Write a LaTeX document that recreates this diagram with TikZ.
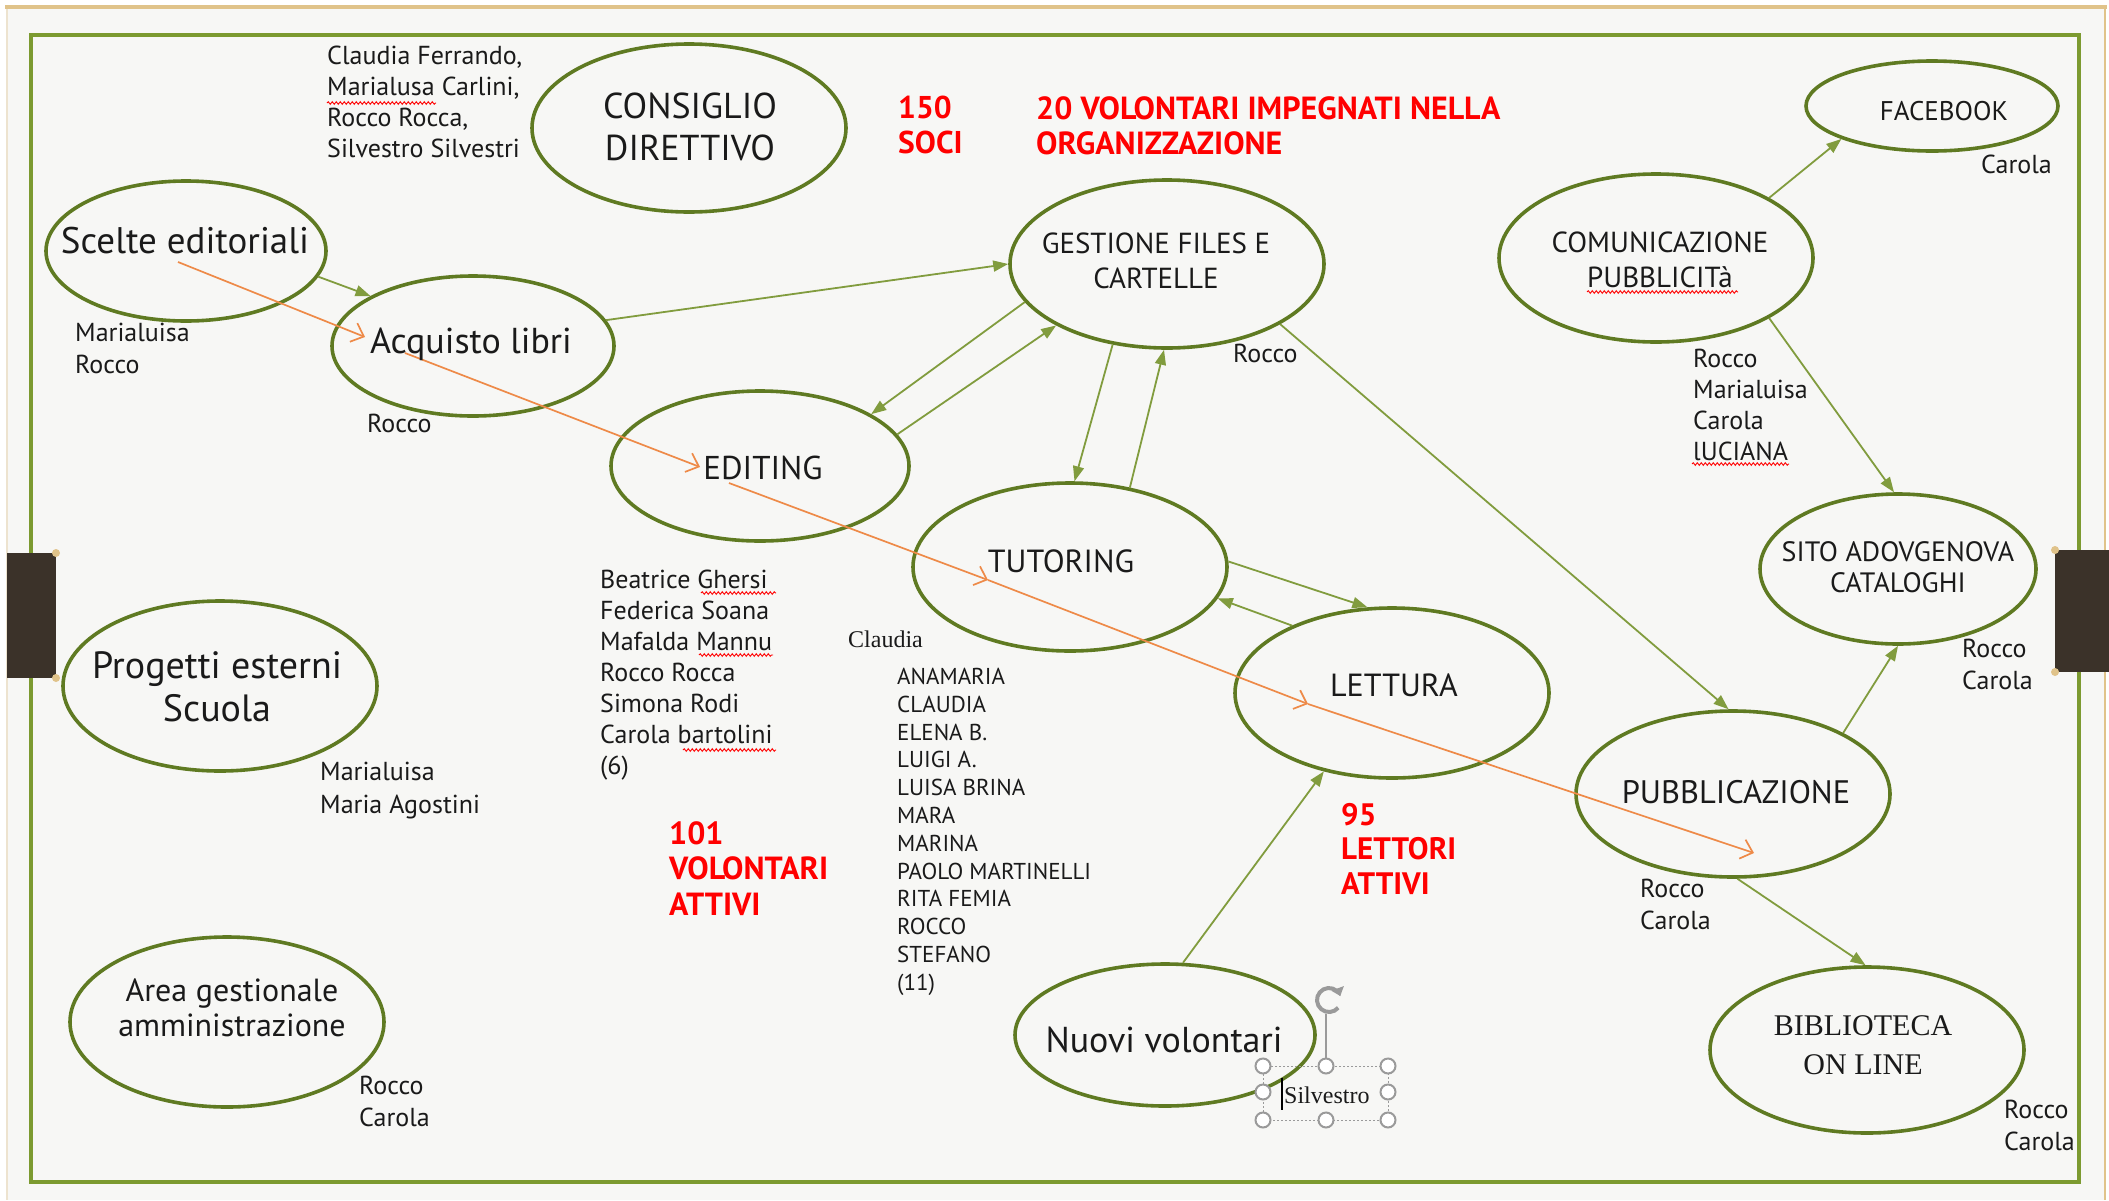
\documentclass[tikz,border=0pt]{standalone}
\usepackage{fontspec}
\setmainfont{PT Sans}
\newfontfamily\seriffont{Liberation Serif}
\usetikzlibrary{arrows.meta,decorations.pathmorphing,shapes.geometric}
\definecolor{bgc}{HTML}{F7F7F5}
\definecolor{frameg}{HTML}{7C9A30}
\definecolor{ellg}{HTML}{5F7A22}
\definecolor{arrg}{HTML}{819C3E}
\definecolor{orng}{HTML}{EE8A48}
\definecolor{tanc}{HTML}{E0C38A}
\definecolor{tanl}{HTML}{EDE3CF}
\definecolor{tabc}{HTML}{3B3229}
\definecolor{txt}{HTML}{1A1A1A}
\definecolor{redt}{HTML}{FF0000}
\definecolor{hgray}{HTML}{9A9A9A}
\newcommand\fsz[2]{\fontsize{#1}{#2}\selectfont}
\tikzset{
 ell/.style={ellipse, draw=ellg, line width=3.6pt, inner sep=0pt},
 grn/.style={draw=arrg, line width=1.8pt, -{Triangle[length=15pt,width=11pt]}},
 org/.style={draw=orng, line width=1.7pt, -{Straight Barb[length=11pt,width=20pt]}},
 lbl/.style={inner sep=0pt, text=txt},
 lst/.style={inner sep=0pt, text=txt, anchor=north west, align=left},
 redl/.style={inner sep=0pt, text=redt, anchor=north west, align=left},
 wave/.style={draw=red, line width=0.9pt, decorate, decoration={snake, amplitude=1.3pt, segment length=4pt}},
 hdl/.style={circle, draw=hgray, fill=white, line width=2pt, minimum size=15pt, inner sep=0pt},
}
\begin{document}
\begin{tikzpicture}[x=1pt,y=-1pt]
\useasboundingbox (0,0) rectangle (2109,1200);
% page
\fill[white] (0,0) rectangle (2109,1200);
\fill[bgc] (7,7) rectangle (2105,1200);
\draw[tanl, line width=1.5pt] (7,7) -- (7,1200);
\draw[tanc, line width=2pt] (2105,7) -- (2105,1200);
\draw[tanc, line width=3.5pt] (5,7) -- (2107,7);
% frame
\draw[frameg, line width=3.6pt] (31,35) rectangle (2079,1182);
% tabs
\fill[tabc] (7,553) rectangle (56,678);
\fill[tanc] (56,553) circle (4pt) (56,678) circle (4pt);
\fill[tabc] (2055,550) rectangle (2109,672);
\fill[tanc] (2055,550) circle (4pt) (2055,672) circle (4pt);

% ellipses
\node[ell, minimum width=314pt, minimum height=168pt] (cons) at (689,128) {};
\node[ell, minimum width=280pt, minimum height=140pt] (scelte) at (186,251) {};
\node[ell, minimum width=282pt, minimum height=140pt] (acq) at (473,346) {};
\node[ell, minimum width=298pt, minimum height=150pt] (edit) at (760,466) {};
\node[ell, minimum width=314pt, minimum height=168pt] (gest) at (1167,264) {};
\node[ell, minimum width=314pt, minimum height=168pt] (com) at (1656,258) {};
\node[ell, minimum width=252pt, minimum height=90pt] (fb) at (1932,106) {};
\node[ell, minimum width=314pt, minimum height=168pt] (tut) at (1070,567) {};
\node[ell, minimum width=314pt, minimum height=170pt] (lett) at (1392,693) {};
\node[ell, minimum width=314pt, minimum height=166pt] (pub) at (1733,794) {};
\node[ell, minimum width=276pt, minimum height=150pt] (sito) at (1898,569) {};
\node[ell, minimum width=314pt, minimum height=166pt] (bib) at (1867,1050) {};
\node[ell, minimum width=300pt, minimum height=142pt] (nuovi) at (1165,1035) {};
\node[ell, minimum width=314pt, minimum height=170pt] (prog) at (220,686) {};
\node[ell, minimum width=314pt, minimum height=170pt] (area) at (227,1022) {};

% green connectors
\draw[grn] (scelte.-11) -- (acq.154);
\draw[grn] (acq.11) -- (gest.180);
\draw[grn] (gest.195) -- (edit.25);
\draw[grn] (edit.13) -- (gest.209);
\draw[grn] (gest.236) -- (tut.87);
\draw[grn] (tut.53) -- (gest.268);
\draw[grn] (gest.-28) -- (pub.93);
\draw[grn] (tut.2) -- (lett.106);
\draw[grn] (lett.146) -- (tut.-12);
\draw[grn] (nuovi.76) -- (lett.229);
\draw[grn] (com.28) -- (fb.200);
\draw[grn] (com.-28) -- (sito.93);
\draw[grn] (pub.29) -- (sito.270);
\draw[grn] (pub.273) -- (bib.91);

% orange path
\coordinate (o1) at (178,262);
\coordinate (o2) at (365,337);
\coordinate (o3) at (405,353);
\coordinate (o4) at (700,467);
\coordinate (o5) at (729,483);
\coordinate (o6) at (988,580);
\coordinate (o7) at (1308,704);
\coordinate (o8) at (1754,853);
\draw[org] (o1) -- (o2);
\draw[org] (o3) -- (o4);
\draw[org] (o5) -- (o6);
\draw[org] (o6) -- (o7);
\draw[org] (o7) -- (o8);

% node labels
\node[lbl, font=\fsz{36}{42}, anchor=north, align=center] (consT) at (690,93) {CONSIGLIO\\DIRETTIVO};
\node[lbl, font=\fsz{37}{40}, anchor=base] (scelteT) at (185,253) {Scelte editoriali};
\node[lbl, font=\fsz{36}{40}, anchor=base] (acqT) at (471,353) {Acquisto libri};
\node[lbl, font=\fsz{33}{40}, anchor=base] (editT) at (763,479) {EDITING};
\node[lbl, font=\fsz{29}{35}, anchor=north, align=center] (gestT) at (1156,233) {GESTIONE FILES E\\CARTELLE};
\node[lbl, font=\fsz{29}{35}, anchor=north, align=center] (comT) at (1660,232) {COMUNICAZIONE\\PUBBLICITà};
\node[lbl, font=\fsz{27}{32}, anchor=base] (fbT) at (1944,120) {FACEBOOK};
\node[lbl, font=\fsz{32}{40}, anchor=base] (tutT) at (1061,572) {TUTORING};
\node[lbl, font=\fsz{32}{40}, anchor=base] (lettT) at (1394,696) {LETTURA};
\node[lbl, font=\fsz{32.5}{40}, anchor=base] (pubT) at (1736,803) {PUBBLICAZIONE};
\node[lbl, font=\fsz{28}{31}, anchor=north, align=center] (sitoT) at (1898,541) {SITO ADOVGENOVA\\CATALOGHI};
\node[lbl, font=\seriffont\fsz{30}{39}, anchor=north, align=center] (bibT) at (1863,1015) {BIBLIOTECA\\ON LINE};
\node[lbl, font=\fsz{36}{40}, anchor=base] (nuoviT) at (1164,1052) {Nuovi volontari};
\node[lbl, font=\fsz{38}{43}, anchor=north, align=center] (progT) at (217,651) {Progetti esterni\\Scuola};
\node[lbl, font=\fsz{32}{35}, anchor=north, align=center] (areaT) at (232,979) {Area gestionale\\amministrazione};

% people lists
\node[lst, font=\fsz{26}{31}] (l1) at (327,46) {Claudia Ferrando,\\Marialusa Carlini,\\Rocco Rocca,\\Silvestro Silvestri};
\node[lst, font=\fsz{26}{32}] (l2) at (75,323) {Marialuisa\\Rocco};
\node[lbl, font=\fsz{26}{31}, anchor=base west] (l3) at (367,432) {Rocco};
\node[lst, font=\fsz{26}{31}] (l4) at (600,570) {Beatrice Ghersi\\Federica Soana\\Mafalda Mannu\\Rocco Rocca\\Simona Rodi\\Carola bartolini\\(6)};
\node[lst, font=\fsz{26}{33}] (l5) at (320,762) {Marialuisa\\Maria Agostini};
\node[lst, font=\fsz{26}{32}] (l6) at (359,1076) {Rocco\\Carola};
\node[lbl, font=\fsz{26}{31}, anchor=base west] (l7) at (1233,362) {Rocco};
\node[lbl, font=\fsz{26}{31}, anchor=base west] (l8) at (1981,173) {Carola};
\node[lst, font=\fsz{26}{31}] (l9) at (1693,349) {Rocco\\Marialuisa\\Carola\\lUCIANA};
\node[lst, font=\fsz{26}{32}] (l10) at (1962,639) {Rocco\\Carola};
\node[lst, font=\fsz{26}{32}] (l11) at (1640,879) {Rocco\\Carola};
\node[lst, font=\fsz{26}{32}] (l12) at (2004,1100) {Rocco\\Carola};
\node[lbl, font=\seriffont\fsz{24}{28}, anchor=base west] (l13) at (848,647) {Claudia};
\node[lst, font=\fsz{23}{27.8}] (l14) at (897,668) {ANAMARIA\\CLAUDIA\\ELENA B.\\LUIGI A.\\LUISA BRINA\\MARA\\MARINA\\PAOLO MARTINELLI\\RITA FEMIA\\ROCCO\\STEFANO\\(11)};

% red figures
\node[redl, font=\bfseries\fsz{31.5}{35}] (r1) at (898,96) {150\\SOCI};
\node[redl, font=\bfseries\fsz{32}{35}] (r2) at (1036,96) {20 VOLONTARI IMPEGNATI NELLA\\ORGANIZZAZIONE};
\node[redl, font=\bfseries\fsz{32}{35.5}] (r3) at (669,821) {101\\VOLONTARI\\ATTIVI};
\node[redl, font=\bfseries\fsz{31}{34.5}] (r4) at (1341,803) {95\\LETTORI\\ATTIVI};

% spell-check underlines
\draw[wave] (327,103) -- (436,103);
\draw[wave] (1587,292) -- (1738,292);
\draw[wave] (1692,464) -- (1789,464);
\draw[wave] (701,593) -- (776,593);
\draw[wave] (699,655) -- (773,655);
\draw[wave] (683,750) -- (776,750);

% selected text box "Silvestro"
\draw[hgray, line width=1pt, dash pattern=on 2pt off 2pt] (1263,1066) rectangle (1388,1120);
\coordinate (rot) at (1329,1000);
\draw[hgray, line width=1.5pt] (1326,1066) -- (1326,1014);
\draw[hgray, line width=4pt, -{Triangle[length=8pt,width=13pt]}] (rot) ++(-40:12pt) arc[start angle=-40, end angle=-340, radius=12pt];
\node[hdl] (h1) at (1263,1066) {};
\node[hdl] (h2) at (1326,1066) {};
\node[hdl] (h3) at (1388,1066) {};
\node[hdl] (h4) at (1263,1092) {};
\node[hdl] (h5) at (1388,1092) {};
\node[hdl] (h6) at (1263,1120) {};
\node[hdl] (h7) at (1326,1120) {};
\node[hdl] (h8) at (1388,1120) {};
\node[lbl, font=\seriffont\fsz{24}{28}, anchor=base west] (silv) at (1284,1103) {Silvestro};
\draw[black, line width=1.3pt] (1282,1078) -- (1282,1110);
\end{tikzpicture}
\end{document}
